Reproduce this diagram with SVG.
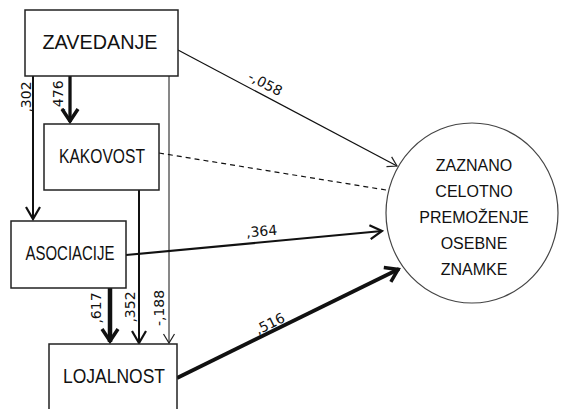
<svg xmlns="http://www.w3.org/2000/svg" width="563" height="409" viewBox="0 0 563 409">
<style>
.box{fill:#fff;stroke:#222;stroke-width:1.5}
.nt{font-family:"Liberation Sans",Arial,sans-serif;font-size:20px;fill:#111;text-anchor:middle}
.ct{font-family:"Liberation Sans",Arial,sans-serif;font-size:16px;fill:#111;text-anchor:middle}
.lb{font-family:"DejaVu Sans",Verdana,sans-serif;font-size:14px;fill:#111;text-anchor:middle}
.c{fill:none;stroke:#111}
</style>
<defs>
<marker id="a1" markerUnits="userSpaceOnUse" viewBox="-12 -8 14 16" markerWidth="14" markerHeight="16" refX="0" refY="0" orient="auto" overflow="visible"><path d="M-9,-5.5 L0,0 L-9,5.5" fill="none" stroke="#222" stroke-width="1.2"/></marker>
<marker id="a2" markerUnits="userSpaceOnUse" viewBox="-14 -9 16 18" markerWidth="16" markerHeight="18" refX="0" refY="0" orient="auto" overflow="visible"><path d="M-12,-7 L0,0 L-12,7" fill="none" stroke="#111" stroke-width="2.2"/></marker>
<marker id="a3" markerUnits="userSpaceOnUse" viewBox="-16 -10 18 20" markerWidth="18" markerHeight="20" refX="0" refY="0" orient="auto" overflow="visible"><path d="M-13,-8 L-1,0 L-13,8" fill="none" stroke="#111" stroke-width="3.5"/></marker>
</defs>
<g id="connectors">
<line class="c" x1="33" y1="76" x2="33" y2="219" stroke-width="2" marker-end="url(#a2)"/>
<line class="c" x1="70" y1="76" x2="70" y2="122" stroke-width="3.3" marker-end="url(#a3)"/>
<line class="c" x1="169" y1="76" x2="169" y2="343" stroke-width="1" marker-end="url(#a1)"/>
<line class="c" x1="139" y1="190" x2="139" y2="343" stroke-width="2" marker-end="url(#a2)"/>
<line class="c" x1="110" y1="288" x2="110" y2="342" stroke-width="4.5" marker-end="url(#a3)"/>
<line class="c" x1="178" y1="50" x2="397" y2="166" stroke-width="1.2" stroke="#333" marker-end="url(#a1)"/>
<line class="c" x1="159" y1="153" x2="386" y2="190" stroke-width="1.2" stroke="#444" stroke-dasharray="5,4"/>
<line class="c" x1="126" y1="255" x2="382" y2="231" stroke-width="2.2" marker-end="url(#a2)"/>
<line class="c" x1="177" y1="378" x2="399" y2="269" stroke-width="3.8" marker-end="url(#a3)"/>
<text class="lb" transform="translate(31,97) rotate(-90)">,302</text>
<text class="lb" transform="translate(63,96) rotate(-90)">,476</text>
<text class="lb" transform="translate(101,308) rotate(-90)">,617</text>
<text class="lb" transform="translate(135,307) rotate(-90)">,352</text>
<text class="lb" transform="translate(164,308) rotate(-90)">-,188</text>
<text class="lb" transform="translate(263,88) rotate(28)">-,058</text>
<text class="lb" transform="translate(262,236) rotate(-5)">,364</text>
<text class="lb" transform="translate(272,328) rotate(-26)">,516</text>
</g>
<g id="zavedanje"><rect class="box" x="25" y="10" width="153" height="66"/><text class="nt" x="100" y="49" textLength="115" lengthAdjust="spacingAndGlyphs">ZAVEDANJE</text></g>
<g id="kakovost"><rect class="box" x="44" y="124" width="115" height="66"/><text class="nt" x="102" y="163" textLength="86" lengthAdjust="spacingAndGlyphs">KAKOVOST</text></g>
<g id="asociacije"><rect class="box" x="11" y="221" width="115" height="67"/><text class="nt" x="70" y="260" textLength="89" lengthAdjust="spacingAndGlyphs">ASOCIACIJE</text></g>
<g id="lojalnost"><rect class="box" x="49" y="344" width="128" height="72"/><text class="nt" x="114" y="383" textLength="102" lengthAdjust="spacingAndGlyphs">LOJALNOST</text></g>
<g id="premozenje"><ellipse cx="472" cy="213" rx="86" ry="90" fill="#fff" stroke="#444" stroke-width="1.2"/>
<text class="ct" x="474" y="171">ZAZNANO</text>
<text class="ct" x="474" y="197">CELOTNO</text>
<text class="ct" x="474" y="223">PREMOŽENJE</text>
<text class="ct" x="474" y="249">OSEBNE</text>
<text class="ct" x="474" y="275">ZNAMKE</text>
</g>
</svg>
